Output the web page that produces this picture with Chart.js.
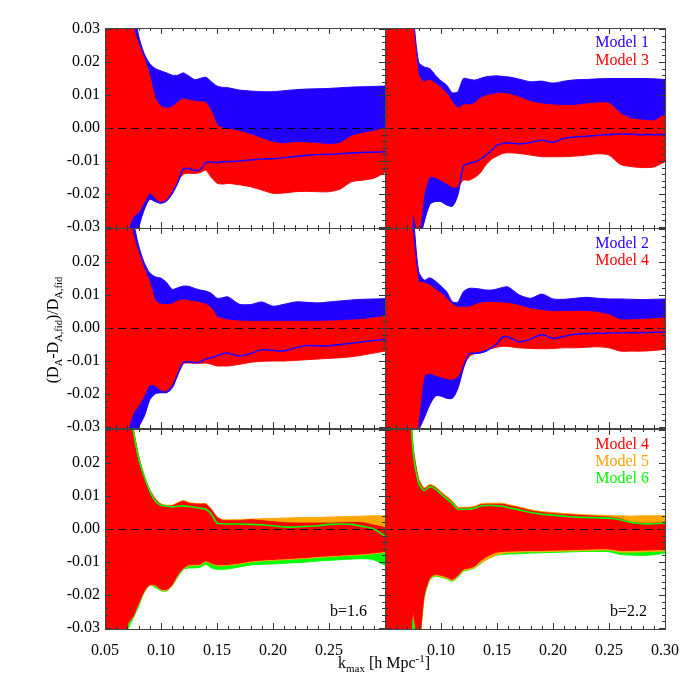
<!DOCTYPE html>
<html><head><meta charset="utf-8">
<script src="https://cdn.jsdelivr.net/npm/chart.js@4.4.0/dist/chart.umd.min.js"></script>
<style>
html,body{margin:0;padding:0;background:#fff;}
#wrap{position:relative;width:700px;height:700px;overflow:hidden;}
#wrap canvas{position:absolute;left:0;top:0;}
</style></head><body><div id="wrap">
<canvas id="p0" width="700" height="700"></canvas>
<canvas id="p1" width="700" height="700"></canvas>
<canvas id="p2" width="700" height="700"></canvas>
<canvas id="p3" width="700" height="700"></canvas>
<canvas id="p4" width="700" height="700"></canvas>
<canvas id="p5" width="700" height="700"></canvas>
</div>
<script>
// k_max grid (h/Mpc)
const K = [0.05,0.06,0.07,0.075,0.08,0.085,0.09,0.095,0.10,0.105,0.11,0.115,0.12,0.125,0.13,0.135,0.14,0.145,0.15,0.155,0.16,0.17,0.18,0.19,0.20,0.21,0.22,0.23,0.24,0.25,0.26,0.27,0.28,0.29,0.30];
const XTICKS = [0.05,0.10,0.15,0.20,0.25,0.30];
const YTICKS = [-0.03,-0.02,-0.01,0.00,0.01,0.02,0.03];

// Panel A (top-left): Model 1 (blue), Model 3 (red)
const m1aUp = [0.06,0.06,0.05,0.038,0.028,0.0225,0.0195,0.018,0.0173,0.0167,0.016,0.016,0.0167,0.0157,0.0147,0.015,0.0154,0.014,0.0127,0.0123,0.0122,0.0115,0.0112,0.011,0.011,0.0113,0.0116,0.0118,0.0119,0.012,0.0122,0.0124,0.0125,0.0126,0.0127];
const m1aLo = [-0.06,-0.06,-0.05,-0.04,-0.030,-0.0245,-0.0215,-0.0222,-0.0227,-0.022,-0.0198,-0.0165,-0.0124,-0.0123,-0.0128,-0.0126,-0.0105,-0.0103,-0.0105,-0.0102,-0.0102,-0.01,-0.0097,-0.0094,-0.0093,-0.009,-0.0086,-0.0083,-0.0081,-0.008,-0.0078,-0.0076,-0.0074,-0.0073,-0.0072];
const m3aUp = [0.06,0.06,0.045,0.031,0.0255,0.021,0.0158,0.009,0.0065,0.006,0.0064,0.0078,0.0088,0.0084,0.0081,0.0079,0.0077,0.005,0.001,0.0,-0.0003,-0.001,-0.002,-0.0032,-0.0043,-0.0048,-0.0044,-0.0045,-0.0047,-0.005,-0.0046,-0.0025,-0.0016,-0.001,0.0];
const m3aLo = [-0.06,-0.06,-0.032,-0.027,-0.0255,-0.0225,-0.0197,-0.0212,-0.0225,-0.0217,-0.0192,-0.016,-0.014,-0.0137,-0.0138,-0.0135,-0.0128,-0.015,-0.0167,-0.017,-0.0168,-0.0172,-0.0178,-0.0188,-0.0198,-0.0197,-0.0193,-0.0192,-0.0193,-0.0193,-0.0185,-0.0163,-0.0158,-0.0152,-0.0135];

// Panel B (top-right): Model 1 (blue), Model 3 (red)
const m1bUp = [0.06,0.06,0.05,0.035,0.020,0.0185,0.018,0.016,0.0143,0.013,0.0107,0.011,0.015,0.0148,0.0145,0.015,0.0155,0.0157,0.0158,0.0156,0.0155,0.0148,0.014,0.0142,0.0136,0.0142,0.0146,0.0147,0.0149,0.015,0.015,0.015,0.015,0.0149,0.0147];
const m1bLo = [-0.06,-0.06,-0.045,-0.04,-0.035,-0.028,-0.023,-0.0222,-0.0222,-0.0232,-0.0236,-0.02,-0.0115,-0.0107,-0.0103,-0.0095,-0.0083,-0.0068,-0.0052,-0.0047,-0.0045,-0.0048,-0.0044,-0.0037,-0.0043,-0.0031,-0.0027,-0.0025,-0.0022,-0.002,-0.0018,-0.0019,-0.002,-0.002,-0.002];
const m3bUp = [0.06,0.06,0.05,0.032,0.016,0.014,0.0145,0.0135,0.0122,0.0105,0.008,0.006,0.007,0.007,0.0075,0.009,0.0097,0.0101,0.0104,0.0105,0.0103,0.0093,0.008,0.0073,0.007,0.0068,0.0069,0.0073,0.0076,0.0075,0.0045,0.0028,0.0024,0.0022,0.004];
const m3bLo = [-0.06,-0.06,-0.06,-0.026,-0.032,-0.02,-0.0147,-0.015,-0.0158,-0.0168,-0.0178,-0.0178,-0.0158,-0.0158,-0.015,-0.0136,-0.0112,-0.0095,-0.0085,-0.0077,-0.0075,-0.0077,-0.0082,-0.0087,-0.0087,-0.0087,-0.0085,-0.0082,-0.0078,-0.0082,-0.011,-0.0117,-0.012,-0.0118,-0.0102];

// Panel C (middle-left): Model 2 (blue), Model 4 (red)
const m2cUp = [0.06,0.06,0.045,0.033,0.025,0.0198,0.0167,0.0155,0.0151,0.0138,0.0117,0.0122,0.0127,0.0126,0.012,0.0115,0.0112,0.0105,0.009,0.0092,0.0094,0.0072,0.0071,0.0079,0.0066,0.0072,0.0079,0.0078,0.0076,0.0079,0.0082,0.0085,0.0087,0.0088,0.0089];
const m2cLo = [-0.06,-0.06,-0.045,-0.037,-0.030,-0.0265,-0.0215,-0.0198,-0.0195,-0.0195,-0.018,-0.014,-0.0105,-0.0103,-0.0105,-0.0103,-0.0094,-0.009,-0.0085,-0.0078,-0.0076,-0.0085,-0.0077,-0.0066,-0.0068,-0.007,-0.006,-0.0053,-0.0054,-0.0054,-0.005,-0.0046,-0.0042,-0.0038,-0.0035];
const m4cUp = [0.06,0.06,0.04,0.0285,0.0228,0.018,0.0138,0.0083,0.0072,0.0071,0.0073,0.0082,0.0085,0.0082,0.008,0.0077,0.0072,0.006,0.0034,0.0028,0.0024,0.0021,0.002,0.002,0.002,0.002,0.002,0.002,0.002,0.0021,0.0022,0.0024,0.0026,0.003,0.0035];
const m4cLo = [-0.06,-0.06,-0.032,-0.026,-0.0235,-0.0205,-0.0172,-0.0175,-0.0188,-0.019,-0.017,-0.0135,-0.0108,-0.0106,-0.0107,-0.0107,-0.0106,-0.011,-0.0115,-0.0115,-0.0115,-0.011,-0.0104,-0.0101,-0.01,-0.01,-0.0098,-0.0096,-0.0094,-0.0092,-0.009,-0.0087,-0.0082,-0.0076,-0.007];

// Panel D (middle-right): Model 2 (blue), Model 4 (red)
const m2dUp = [0.06,0.06,0.05,0.035,0.0172,0.0145,0.0152,0.0142,0.0127,0.011,0.008,0.0078,0.011,0.012,0.012,0.0118,0.0115,0.0115,0.0118,0.0123,0.0124,0.010,0.009,0.0103,0.0088,0.0087,0.009,0.0093,0.009,0.0088,0.0088,0.0087,0.0086,0.0087,0.0088];
const m2dLo = [-0.06,-0.06,-0.05,-0.04,-0.031,-0.027,-0.023,-0.0205,-0.0205,-0.0212,-0.0212,-0.018,-0.012,-0.0078,-0.0077,-0.0075,-0.007,-0.006,-0.0048,-0.0028,-0.0027,-0.0042,-0.0034,-0.002,-0.0032,-0.0025,-0.0019,-0.0017,-0.0016,-0.0015,-0.0015,-0.0014,-0.0014,-0.0013,-0.0013];
const m4dUp = [0.06,0.06,0.045,0.028,0.014,0.0137,0.013,0.0117,0.0105,0.009,0.0072,0.0063,0.0063,0.0063,0.007,0.0075,0.0077,0.0077,0.0077,0.0076,0.0075,0.0068,0.0058,0.0053,0.005,0.005,0.005,0.005,0.0047,0.004,0.0025,0.0025,0.0026,0.0028,0.003];
const m4dLo = [-0.06,-0.06,-0.06,-0.04,-0.028,-0.0145,-0.0137,-0.0143,-0.0148,-0.0153,-0.0155,-0.0147,-0.0115,-0.0088,-0.0076,-0.007,-0.0066,-0.0062,-0.0058,-0.0055,-0.0056,-0.006,-0.0062,-0.0063,-0.0062,-0.006,-0.006,-0.0058,-0.0057,-0.006,-0.007,-0.007,-0.007,-0.0068,-0.0065];

// Panel E (bottom-left, b=1.6): Model 4 (red), Model 5 (orange), Model 6 (green)
const m4eUp = [0.06,0.06,0.045,0.031,0.022,0.016,0.0118,0.009,0.0074,0.007,0.007,0.0078,0.0084,0.0078,0.0076,0.0075,0.0075,0.0058,0.0035,0.0026,0.0025,0.0025,0.0028,0.0025,0.0022,0.0019,0.0018,0.0018,0.0018,0.0018,0.0019,0.002,0.0019,0.0012,0.0004];
const m4eLo = [-0.06,-0.06,-0.029,-0.0265,-0.0225,-0.0188,-0.0168,-0.017,-0.0182,-0.0183,-0.0168,-0.0138,-0.0118,-0.0108,-0.0107,-0.0106,-0.0096,-0.0103,-0.0108,-0.0108,-0.0107,-0.0103,-0.0097,-0.0094,-0.0092,-0.009,-0.0088,-0.0086,-0.0083,-0.0081,-0.0079,-0.0077,-0.0075,-0.0072,-0.0068];
const m5eUp = [0.06,0.06,0.045,0.031,0.0222,0.0162,0.012,0.0092,0.0076,0.0072,0.0072,0.008,0.0086,0.008,0.0078,0.0077,0.0077,0.006,0.0037,0.0029,0.0028,0.0029,0.003,0.0031,0.0032,0.0033,0.0034,0.0035,0.0035,0.0036,0.0037,0.0038,0.0039,0.004,0.004];
const m5eLo = [-0.06,-0.06,-0.0293,-0.0268,-0.0228,-0.0191,-0.0171,-0.0173,-0.0185,-0.0186,-0.0171,-0.0141,-0.0121,-0.0111,-0.011,-0.0109,-0.0099,-0.0106,-0.0111,-0.0111,-0.011,-0.0106,-0.01,-0.0097,-0.0095,-0.0093,-0.0091,-0.0089,-0.0086,-0.0084,-0.0082,-0.008,-0.0078,-0.0075,-0.0071];
const m6eUp = [0.06,0.06,0.045,0.0305,0.0215,0.016,0.0115,0.0085,0.0072,0.0069,0.0067,0.0069,0.007,0.0068,0.0066,0.0063,0.006,0.0045,0.0018,0.0016,0.0015,0.0015,0.0014,0.0013,0.001,0.0006,0.0006,0.0008,0.001,0.0014,0.0015,0.0014,0.0008,0.0,-0.0022];
const m6eLo = [-0.06,-0.06,-0.031,-0.0272,-0.0235,-0.0192,-0.017,-0.0177,-0.0187,-0.0188,-0.0172,-0.0145,-0.0123,-0.0118,-0.0118,-0.0116,-0.0107,-0.0118,-0.0122,-0.0122,-0.0121,-0.0115,-0.0109,-0.0107,-0.0106,-0.0104,-0.0102,-0.01,-0.0097,-0.0095,-0.0093,-0.0091,-0.009,-0.0093,-0.011];

// Panel F (bottom-right, b=2.2): Model 4 (red), Model 5 (orange), Model 6 (green)
const m4fUp = [0.06,0.06,0.05,0.025,0.015,0.0122,0.0132,0.0125,0.011,0.0096,0.0082,0.0063,0.0063,0.0063,0.0066,0.0073,0.0075,0.0075,0.0075,0.0075,0.0071,0.0064,0.0055,0.005,0.0047,0.0044,0.0042,0.004,0.0038,0.0036,0.0031,0.002,0.0018,0.0018,0.0018];
const m4fLo = [-0.06,-0.06,-0.045,-0.0255,-0.035,-0.02,-0.0148,-0.0137,-0.014,-0.0145,-0.0152,-0.014,-0.0122,-0.0118,-0.0112,-0.0097,-0.0085,-0.0076,-0.007,-0.0068,-0.0067,-0.0066,-0.0065,-0.0065,-0.0064,-0.0063,-0.0062,-0.0061,-0.006,-0.006,-0.0065,-0.0065,-0.0064,-0.0063,-0.0062];
const m5fUp = [0.06,0.06,0.05,0.0253,0.0153,0.0125,0.0135,0.0128,0.0113,0.0099,0.0085,0.0066,0.0066,0.0066,0.0069,0.0076,0.0078,0.0078,0.0078,0.0078,0.0074,0.0067,0.0058,0.0053,0.005,0.0047,0.0045,0.0043,0.0042,0.0041,0.004,0.0039,0.004,0.004,0.004];
const m5fLo = [-0.06,-0.06,-0.046,-0.026,-0.0355,-0.0205,-0.0152,-0.0141,-0.0144,-0.0149,-0.0156,-0.0144,-0.0126,-0.0122,-0.0117,-0.0104,-0.0094,-0.0086,-0.0078,-0.0074,-0.0072,-0.007,-0.0069,-0.0069,-0.0068,-0.0067,-0.0066,-0.0065,-0.0064,-0.0064,-0.007,-0.007,-0.0069,-0.0068,-0.0067];
const m6fUp = [0.06,0.06,0.05,0.024,0.014,0.0117,0.0128,0.0121,0.0106,0.0092,0.0078,0.006,0.006,0.006,0.0063,0.0069,0.0071,0.0071,0.007,0.0069,0.0065,0.0058,0.005,0.0045,0.0042,0.0039,0.0036,0.0035,0.0034,0.0033,0.0028,0.002,0.0016,0.0016,0.0018];
const m6fLo = [-0.06,-0.06,-0.047,-0.035,-0.036,-0.021,-0.0154,-0.0143,-0.0146,-0.0151,-0.0158,-0.0147,-0.0128,-0.0124,-0.0118,-0.0106,-0.0094,-0.0085,-0.0079,-0.0077,-0.0076,-0.0075,-0.0073,-0.0072,-0.0071,-0.007,-0.0069,-0.0068,-0.0068,-0.0069,-0.0077,-0.0079,-0.008,-0.0078,-0.0073];

const FONT = '"Liberation Serif", "Times New Roman", Times, serif';
const BLUE = '#2200ff', RED = '#ff0000', ORANGE = '#ffa500', GREEN = '#00ff00';

// axW: width reserved for the y-axis labels; axH: height reserved for the x-axis labels
const PANELS = [
  {id:'p0', col:0, row:0, pad:{left:0, top:28, right:315, bottom:472}, axW:105, axH:0,
   bands:[[m1aUp,m1aLo,BLUE],[m3aUp,m3aLo,RED]], lines:[[m1aLo,BLUE]], texts:[]},
  {id:'p1', col:1, row:0, pad:{left:385, top:28, right:35, bottom:472}, axW:0, axH:0,
   bands:[[m1bUp,m1bLo,BLUE],[m3bUp,m3bLo,RED]], lines:[[m1bLo,BLUE]],
   texts:[['Model 1',BLUE,'top',15],['Model 3',RED,'top',33]]},
  {id:'p2', col:0, row:1, pad:{left:0, top:228, right:315, bottom:272}, axW:105, axH:0,
   bands:[[m2cUp,m2cLo,BLUE],[m4cUp,m4cLo,RED]], lines:[[m2cLo,BLUE]], texts:[]},
  {id:'p3', col:1, row:1, pad:{left:385, top:228, right:35, bottom:272}, axW:0, axH:0,
   bands:[[m2dUp,m2dLo,BLUE],[m4dUp,m4dLo,RED]], lines:[[m2dLo,BLUE]],
   texts:[['Model 2',BLUE,'top',16],['Model 4',RED,'top',33]]},
  {id:'p4', col:0, row:2, pad:{left:0, top:429, right:315, bottom:31}, axW:105, axH:40,
   bands:[[m6eUp,m6eLo,GREEN],[m5eUp,m5eLo,ORANGE],[m4eUp,m4eLo,RED]], lines:[[m6eUp,GREEN]],
   texts:[['b=1.6','#000','bottom',17]]},
  {id:'p5', col:1, row:2, pad:{left:385, top:429, right:35, bottom:31}, axW:0, axH:40,
   bands:[[m6fUp,m6fLo,GREEN],[m5fUp,m5fLo,ORANGE],[m4fUp,m4fLo,RED]], lines:[[m6fUp,GREEN]],
   texts:[['Model 4',RED,'top',16],['Model 5',ORANGE,'top',33],['Model 6',GREEN,'top',50],['b=2.2','#000','bottom',17]]}
];

function pts(arr){ return K.map((k,i)=>({x:k, y:arr[i]})); }

function drawRich(ctx, parts, x, y) {
  let total = 0;
  parts.forEach(p => { ctx.font = p[1] + 'px ' + FONT; total += ctx.measureText(p[0]).width; });
  let cx = x - total / 2;
  parts.forEach(p => {
    ctx.font = p[1] + 'px ' + FONT;
    ctx.fillText(p[0], cx, y + p[2]);
    cx += ctx.measureText(p[0]).width;
  });
}

const deco = {
  id: 'deco',
  afterDatasetsDraw(chart) {
    const cfg = chart.options.plugins.deco;
    const {ctx, chartArea: a, scales: {x, y}} = chart;
    ctx.save();
    const y0 = Math.round(y.getPixelForValue(0)) + 0.5;
    ctx.setLineDash([8, 5]);
    ctx.strokeStyle = '#000';
    ctx.lineWidth = 1.1;
    ctx.beginPath(); ctx.moveTo(a.left, y0); ctx.lineTo(a.right, y0); ctx.stroke();
    ctx.setLineDash([]);
    ctx.strokeStyle = '#333';
    ctx.lineWidth = 1;
    ctx.beginPath();
    for (let i = 0; i <= 25; i++) {
      const v = 0.05 + i * 0.01;
      const px = Math.round(x.getPixelForValue(v)) + 0.5;
      const len = (i % 5 === 0) ? 6 : 3;
      ctx.moveTo(px, a.top); ctx.lineTo(px, a.top + len);
      ctx.moveTo(px, a.bottom); ctx.lineTo(px, a.bottom - len);
    }
    for (let j = -15; j <= 15; j++) {
      const v = j * 0.002;
      const py = Math.round(y.getPixelForValue(v)) + 0.5;
      const len = (j % 5 === 0) ? 6 : 3;
      ctx.moveTo(a.left, py); ctx.lineTo(a.left + len, py);
      ctx.moveTo(a.right, py); ctx.lineTo(a.right - len, py);
    }
    ctx.stroke();
    ctx.strokeStyle = '#444';
    ctx.strokeRect(Math.round(a.left) + 0.5, Math.round(a.top) + 0.5, Math.round(a.right - a.left), Math.round(a.bottom - a.top));
    ctx.textAlign = 'right';
    ctx.textBaseline = 'middle';
    ctx.font = '16px ' + FONT;
    cfg.texts.forEach(t => {
      ctx.fillStyle = t[1];
      const ty = t[2] === 'top' ? a.top + t[3] : a.bottom - t[3];
      const rx = t[2] === 'top' ? a.right - 16 : a.right - 18;
      ctx.fillText(t[0], rx, ty);
    });
    ctx.restore();
  },
  afterDraw(chart) {
    const cfg = chart.options.plugins.deco;
    const ctx = chart.ctx;
    ctx.save();
    ctx.fillStyle = '#000';
    ctx.textAlign = 'left';
    ctx.textBaseline = 'alphabetic';
    if (cfg.ytitle) {
      ctx.translate(58, 330);
      ctx.rotate(-Math.PI / 2);
      drawRich(ctx, [['(D',16,0],['A',10.5,4],['-D',16,0],['A,fid',10.5,4],[')/D',16,0],['A,fid',10.5,4]], 0, 0);
      ctx.setTransform(1,0,0,1,0,0);
    }
    if (cfg.xtitle) {
      drawRich(ctx, [['k',16,0],['max',11,4],[' [h Mpc',16,0],['-1',11,-6],[']',16,0]], 384, 668);
    }
    ctx.restore();
  }
};

PANELS.forEach((P, pi) => {
  const datasets = [];
  const total = P.bands.length * 2 + P.lines.length;
  let order = total + 1;
  P.bands.forEach(b => {
    const upIdx = datasets.length;
    datasets.push({data: pts(b[0]), borderColor: b[2], backgroundColor: b[2], borderWidth: 1,
      pointRadius: 0, tension: 0.25, fill: upIdx + 1, order: order--});
    datasets.push({data: pts(b[1]), borderColor: b[2], backgroundColor: b[2], borderWidth: 1,
      pointRadius: 0, tension: 0.25, fill: false, order: order--});
  });
  P.lines.forEach(l => {
    datasets.push({data: pts(l[0]), borderColor: l[1], borderWidth: 1.6,
      pointRadius: 0, tension: 0.25, fill: false, order: order--});
  });
  const col = P.col, row = P.row;
  new Chart(document.getElementById(P.id), {
    type: 'line',
    data: {datasets},
    plugins: [deco],
    options: {
      responsive: false, animation: false, devicePixelRatio: 1,
      layout: {padding: P.pad},
      events: [],
      plugins: {
        legend: {display: false}, tooltip: {enabled: false},
        deco: {texts: P.texts, ytitle: pi === 2, xtitle: pi === 4}
      },
      scales: {
        x: {
          type: 'linear', min: 0.05, max: 0.30, position: 'bottom',
          afterFit: s => { s.height = P.axH; },
          afterBuildTicks: s => { s.ticks = XTICKS.map(v => ({value: v})); },
          grid: {display: false, drawTicks: false}, border: {display: false},
          ticks: {display: row === 2, padding: 12, maxRotation: 0, minRotation: 0, autoSkip: false, color: '#000',
            font: {family: FONT, size: 16},
            callback: v => ((col === 0 && v > 0.29) || (col === 1 && v < 0.06)) ? '' : v.toFixed(2)}
        },
        y: {
          type: 'linear', min: -0.0303, max: 0.0303, position: 'left',
          afterFit: s => { s.width = P.axW; },
          afterBuildTicks: s => { s.ticks = YTICKS.map(v => ({value: v})); },
          grid: {display: false, drawTicks: false}, border: {display: false},
          ticks: {display: col === 0, padding: 5, autoSkip: false, color: '#000',
            font: {family: FONT, size: 16},
            callback: v => (row > 0 && v > 0.025) ? '' : (Math.abs(v) < 1e-9 ? '0.00' : v.toFixed(2))}
        }
      }
    }
  });
});
</script>
</body></html>
